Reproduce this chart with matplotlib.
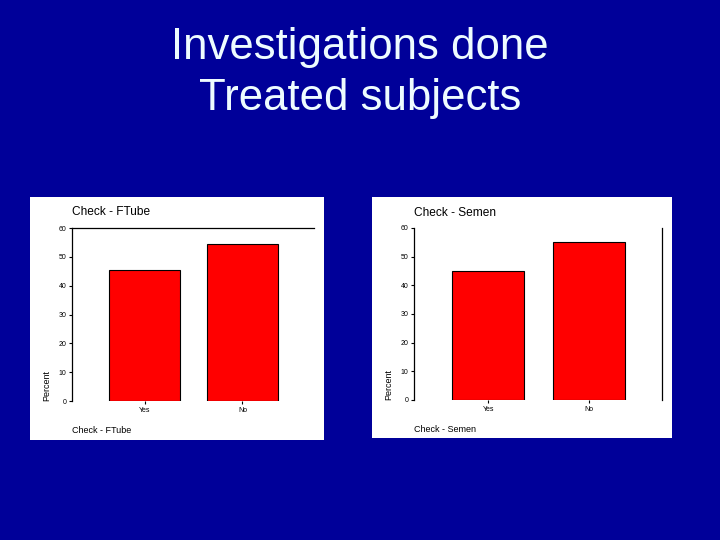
import matplotlib
matplotlib.use("Agg")
import matplotlib.pyplot as plt

plt.rcParams['font.family'] = ['Liberation Sans', 'DejaVu Sans']

# data
categories = ["Yes", "No"]
ftube_pct = [45.5, 54.5]
semen_pct = [45.0, 55.0]
y_ticks = [0, 10, 20, 30, 40, 50, 60]
y_tick_labels = ["0", "10", "20", "30", "40", "50", "60"]

W, H = 720, 540
bg = "#000099"
heading = "#eefcff"

fig = plt.figure(figsize=(7.2, 5.4), dpi=100)
fig.patch.set_facecolor(bg)

fig.text(0.5, 1 - 59 / H, "Investigations done", color=heading,
         fontsize=31.5, ha="center", va="baseline")
fig.text(0.5, 1 - 110 / H, "Treated subjects", color=heading,
         fontsize=31.5, ha="center", va="baseline")


def px_box(x0, y0, x1, y1):
    # pixel box (top-left origin) -> figure fraction [l, b, w, h]
    return [x0 / W, 1 - y1 / H, (x1 - x0) / W, (y1 - y0) / H]


def panel(box, ax_box, values, title, top_line, right_line):
    # white card behind the chart
    card = fig.add_axes(px_box(*box), zorder=-1)
    card.set_facecolor("white")
    card.set_xticks([])
    card.set_yticks([])
    for s in card.spines.values():
        s.set_visible(False)

    ax = fig.add_axes(px_box(*ax_box), zorder=1)
    ax.patch.set_alpha(0)
    ax.bar(range(len(categories)), values, width=0.72, color="#ff0000",
           edgecolor="black", linewidth=0.8)
    ax.set_xlim(-0.74, 1.73)
    ax.set_ylim(0, 60)
    ax.set_yticks(y_ticks)
    ax.set_yticklabels(y_tick_labels)
    ax.set_xticks(range(len(categories)))
    ax.set_xticklabels(categories)
    ax.tick_params(labelsize=5, length=2, width=0.8, pad=2)
    for s in ax.spines.values():
        s.set_linewidth(0.9)
    ax.spines['top'].set_visible(top_line)
    ax.spines['right'].set_visible(right_line)
    ax.spines['bottom'].set_visible(False)
    ax.set_ylabel("Percent", fontsize=6.5)
    ax.yaxis.set_label_coords(-0.085, 0.0)
    ax.yaxis.label.set_va("bottom")
    ax.yaxis.label.set_ha("left")
    ax.text(0.0, 1.09, title, transform=ax.transAxes, fontsize=8.6,
            ha="left", va="center")
    ax.text(0.0, -0.17, title, transform=ax.transAxes, fontsize=6.5,
            ha="left", va="center")
    return ax


panel((30, 197, 324, 440), (72, 228, 314, 401), ftube_pct,
      "Check - FTube", True, False)
panel((372, 197, 672, 438), (414, 228, 662, 400), semen_pct,
      "Check - Semen", False, True)

fig.savefig("out.png", dpi=100, facecolor=bg)
